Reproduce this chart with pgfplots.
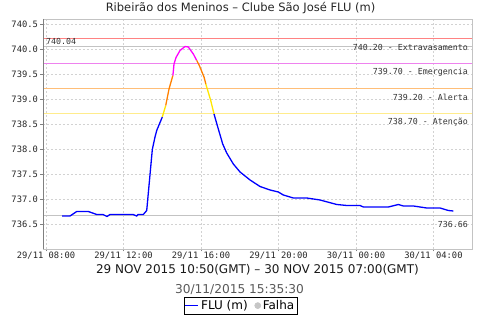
\documentclass[border=0pt]{standalone}
\usepackage{fontspec}
\setmainfont{DejaVu Sans}
\setmonofont{DejaVu Sans Mono}
\usepackage{pgfplots}
\pgfplotsset{compat=1.18}
\definecolor{lineblue}{RGB}{0,0,255}
\definecolor{lineyellow}{RGB}{255,230,0}
\definecolor{lineorange}{RGB}{255,128,0}
\definecolor{linemag}{RGB}{255,0,255}
\definecolor{thrred}{RGB}{255,130,130}
\definecolor{thrmag}{RGB}{238,130,238}
\definecolor{throrange}{RGB}{255,190,120}
\definecolor{thryellow}{RGB}{255,236,140}
\definecolor{refgray}{RGB}{195,195,195}
\pgfplotsset{shortline/.style={legend image code/.code={\draw[##1] (0pt,0pt) -- (13pt,0pt);}}}
\begin{document}
\begin{tikzpicture}
\path[use as bounding box] (0pt,0pt) rectangle (480pt,320pt);
\node[anchor=base, font=\fontsize{11.5}{13}\selectfont, text=black!85] at (240.5pt,308pt) {Ribeirão dos Meninos – Clube São José FLU (m)};
\begin{axis}[
  at={(43pt,71pt)}, anchor=south west,
  scale only axis, width=429pt, height=230pt,
  xmin=7.845, xmax=29.99, ymin=736.0, ymax=740.6,
  xtick={8,12,16,20,24,28},
  xticklabels={29/11 08:00,29/11 12:00,29/11 16:00,29/11 20:00,30/11 00:00,30/11 04:00},
  ytick={736.5,737,737.5,738,738.5,739,739.5,740,740.5},
  yticklabels={736.5,737.0,737.5,738.0,738.5,739.0,739.5,740.0,740.5},
  ticklabel style={font=\ttfamily\fontsize{8.8}{10}\selectfont, text=black!85},
  xticklabel shift=-3.5pt,
  yticklabel style={xshift=1pt},
  tick pos=left, tick align=outside, major tick length=2.5pt,
  tick style={gray},
  grid=major,
  major grid style={gray!35, dash pattern=on 2pt off 2pt, line width=0.5pt},
  axis line style={refgray, line width=0.6pt},
  legend style={at={(0.4604,-0.2087)}, anchor=north, draw=black, line width=0.6pt,
    font=\fontsize{12}{13}\selectfont, inner xsep=1pt, inner ysep=1pt,
    /tikz/every even column/.append style={column sep=5pt}},
  legend columns=2,
  legend cell align=left,
]
% threshold and reference lines
\addplot[forget plot, color=thrred, line width=1pt] coordinates {(7.845,740.2) (29.99,740.2)};
\addplot[forget plot, color=refgray, line width=1pt] coordinates {(7.845,740.04) (29.99,740.04)};
\addplot[forget plot, color=thrmag, line width=1pt] coordinates {(7.845,739.7) (29.99,739.7)};
\addplot[forget plot, color=throrange, line width=1pt] coordinates {(7.845,739.2) (29.99,739.2)};
\addplot[forget plot, color=thryellow, line width=1pt] coordinates {(7.845,738.7) (29.99,738.7)};
\addplot[forget plot, color=refgray, line width=1pt] coordinates {(7.845,736.66) (29.99,736.66)};
% series
\addplot[forget plot, color=lineblue, line width=1.3pt] coordinates {
(8.826,736.66) (9.239,736.66) (9.585,736.75) (10.184,736.75) (10.617,736.69) (10.943,736.69)
(11.149,736.65) (11.304,736.69) (12.491,736.69) (12.683,736.66) (12.750,736.69) (13.023,736.69)
(13.199,736.77) (13.488,737.99) (13.627,738.24) (13.715,738.37) (14.004,738.64)};
\addplot[forget plot, color=lineyellow, line width=1.3pt] coordinates {(14.004,738.64) (14.18,738.87)};
\addplot[forget plot, color=lineorange, line width=1.3pt] coordinates {(14.18,738.87) (14.35,739.2) (14.55,739.47)};
\addplot[forget plot, color=linemag, line width=1.3pt] coordinates {
(14.55,739.47) (14.608,739.7) (14.711,739.83) (14.918,739.97) (15.176,740.05) (15.346,740.04) (15.605,739.9) (15.78,739.77)};
\addplot[forget plot, color=lineorange, line width=1.3pt] coordinates {(15.78,739.77) (15.914,739.67) (16.157,739.44) (16.25,739.3)};
\addplot[forget plot, color=lineyellow, line width=1.3pt] coordinates {(16.25,739.3) (16.503,738.97) (16.673,738.70)};
\addplot[forget plot, color=lineblue, line width=1.3pt] coordinates {
(16.673,738.70) (16.895,738.40) (17.122,738.1) (17.329,737.92) (17.670,737.70) (18.016,737.54)
(18.532,737.38) (19.048,737.25) (19.564,737.18) (19.993,737.14) (20.251,737.08) (20.767,737.02)
(21.459,737.02) (22.146,736.98) (23.008,736.89) (23.524,736.87) (24.211,736.87) (24.381,736.84)
(25.672,736.84) (26.188,736.89) (26.446,736.86) (26.962,736.86) (27.308,736.84) (27.654,736.82)
(28.341,736.82) (28.770,736.77) (29.027,736.76)};
% legend
\addlegendimage{color=lineblue, line width=1.3pt, shortline}
\addlegendentry{FLU (m)}
\addlegendimage{only marks, mark=*, mark size=3pt, color=gray!45}
\addlegendentry{Falha}
% darker left/bottom axis
\draw[gray, line width=0.6pt] (rel axis cs:0,1) -- (rel axis cs:0,0) -- (rel axis cs:1,0);
% labels
\node[anchor=base west, inner sep=0pt, font=\ttfamily\fontsize{8.3}{10}\selectfont, text=black!80] at (axis cs:8.0,740.04) [yshift=2.5pt] {740.04};
\node[anchor=east, inner sep=0pt, font=\ttfamily\fontsize{8.3}{10}\selectfont, text=black!80] at (axis cs:29.786,740.2) [yshift=-8.4pt] {740.20 - Extravasamento};
\node[anchor=east, inner sep=0pt, font=\ttfamily\fontsize{8.3}{10}\selectfont, text=black!80] at (axis cs:29.786,739.7) [yshift=-8.4pt] {739.70 - Emergencia};
\node[anchor=east, inner sep=0pt, font=\ttfamily\fontsize{8.3}{10}\selectfont, text=black!80] at (axis cs:29.786,739.2) [yshift=-8.4pt] {739.20 - Alerta};
\node[anchor=east, inner sep=0pt, font=\ttfamily\fontsize{8.3}{10}\selectfont, text=black!80] at (axis cs:29.786,738.7) [yshift=-8.4pt] {738.70 - Atenção};
\node[anchor=east, inner sep=0pt, font=\ttfamily\fontsize{8.3}{10}\selectfont, text=black!80] at (axis cs:29.786,736.66) [yshift=-8.4pt] {736.66};
\end{axis}
\node[anchor=base, font=\fontsize{12}{13}\selectfont, text=black!90] at (257.5pt,46.7pt) {29 NOV 2015 10:50(GMT) – 30 NOV 2015 07:00(GMT)};
\node[anchor=base, font=\fontsize{12.2}{13}\selectfont, text=black!65] at (239.5pt,26.7pt) {30/11/2015 15:35:30};
\end{tikzpicture}
\end{document}
